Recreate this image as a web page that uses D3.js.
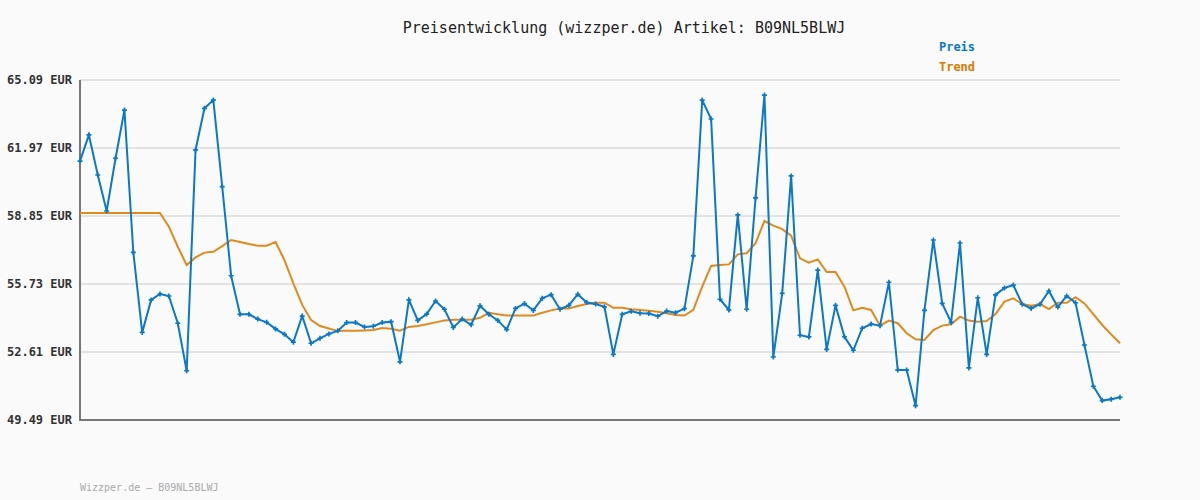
<!DOCTYPE html>
<html><head><meta charset="utf-8">
<script src="https://cdn.jsdelivr.net/npm/d3@7"></script>
<style>
html,body{margin:0;padding:0;background:#fafafa;}
svg{display:block;}
text{font-family:"DejaVu Sans Mono","Liberation Mono",monospace;}
</style></head><body>
<svg id="c" width="1200" height="500"></svg>
<script>
const title = "Preisentwicklung (wizzper.de) Artikel: B09NL5BLWJ";
const footer = "Wizzper.de – B09NL5BLWJ";
const seriesNames = ["Preis", "Trend"];
const yTicks = [49.49, 52.61, 55.73, 58.85, 61.97, 65.09];

const preis = [
61.37,62.57,60.73,59.08,61.50,63.71,57.18,53.51,55.00,55.27,
55.18,53.93,51.75,61.88,63.79,64.17,60.20,56.11,54.34,54.34,
54.12,53.97,53.67,53.42,53.06,54.26,53.01,53.24,53.44,53.58,
53.96,53.96,53.76,53.79,53.96,54.00,52.16,55.00,54.06,54.35,
54.95,54.57,53.74,54.12,53.86,54.73,54.34,54.06,53.64,54.61,
54.83,54.52,55.07,55.24,54.57,54.75,55.26,54.88,54.81,54.68,
52.50,54.34,54.48,54.39,54.38,54.25,54.49,54.41,54.60,57.02,
64.17,63.30,55.03,54.54,58.90,54.57,59.68,64.40,52.38,55.30,
60.69,53.38,53.30,56.37,52.73,54.75,53.31,52.69,53.70,53.89,
53.82,55.81,51.78,51.78,50.15,54.52,57.75,54.84,53.97,57.61,
51.88,55.10,52.50,55.23,55.55,55.68,54.80,54.61,54.80,55.41,
54.67,55.18,54.87,52.93,51.04,50.38,50.44,50.53
];
const trend = [
58.99,58.99,58.99,58.99,58.99,58.99,58.99,58.99,58.99,58.99,
58.36,57.44,56.60,56.95,57.17,57.21,57.47,57.75,57.66,57.57,
57.49,57.49,57.66,56.83,55.76,54.77,54.08,53.80,53.69,53.58,
53.58,53.58,53.60,53.62,53.71,53.68,53.59,53.76,53.80,53.88,
53.97,54.06,54.09,54.09,54.09,54.18,54.41,54.34,54.29,54.29,
54.29,54.29,54.41,54.52,54.61,54.61,54.72,54.81,54.87,54.87,
54.64,54.64,54.57,54.54,54.50,54.46,54.39,54.31,54.28,54.54,
55.61,56.56,56.60,56.63,57.09,57.14,57.60,58.62,58.41,58.25,
57.95,56.91,56.71,56.86,56.28,56.28,55.61,54.52,54.64,54.54,
53.82,54.05,53.93,53.47,53.19,53.16,53.62,53.82,53.88,54.23,
54.05,54.00,54.03,54.35,54.92,55.07,54.81,54.73,54.81,54.58,
54.87,54.87,55.12,54.84,54.35,53.85,53.42,53.01
];

const colors = {Preis:"#0b78c8", Trend:"#e08a1e"};
const svg = d3.select("#c");
const L = 80, R = 1120, T = 80, B = 420;
const x = d3.scaleLinear().domain([0, preis.length - 1]).range([L, R]);
const y = d3.scaleLinear().domain([yTicks[0], yTicks[yTicks.length-1]]).range([B, T]);

// gridlines
svg.append("g").selectAll("line").data(yTicks.slice(1)).join("line")
  .attr("x1", L).attr("x2", R).attr("y1", d => y(d)).attr("y2", d => y(d))
  .attr("stroke", "#e3e3e3").attr("stroke-width", 2);

// y axis via d3 axis
const yAxis = d3.axisLeft(y).tickValues(yTicks).tickSize(0).tickPadding(8)
  .tickFormat(d => d.toFixed(2) + " EUR");
const ga = svg.append("g").attr("transform", `translate(${L},0)`).call(yAxis);
ga.select(".domain").remove();
ga.selectAll("text").attr("font-size", 12).attr("font-weight", "bold").attr("fill", "#333");

// axis lines
svg.append("line").attr("x1", L).attr("x2", L).attr("y1", T).attr("y2", B+1)
  .attr("stroke", "#777").attr("stroke-width", 2);
svg.append("line").attr("x1", L-1).attr("x2", R).attr("y1", B).attr("y2", B)
  .attr("stroke", "#777").attr("stroke-width", 2);

// trend line
const line = d3.line().x((d,i) => x(i)).y(d => y(d));
svg.append("path").datum(trend).attr("d", line).attr("fill", "none")
  .attr("stroke", colors.Trend).attr("stroke-width", 2);
// preis line
svg.append("path").datum(preis).attr("d", line).attr("fill", "none")
  .attr("stroke", colors.Preis).attr("stroke-width", 2);
// markers
const sym = d3.symbol().type(d3.symbolCross).size(14);
svg.append("g").selectAll("path").data(preis).join("path")
  .attr("d", sym).attr("transform", (d,i) => `translate(${x(i)},${y(d)})`)
  .attr("fill", colors.Preis);

// title
svg.append("text").attr("x", 624).attr("y", 33).attr("text-anchor", "middle")
  .attr("font-size", 15).attr("fill", "#222").text(title);
// legend
seriesNames.forEach((n, i) => {
  svg.append("text").attr("x", 957).attr("y", 51 + i*20).attr("text-anchor", "middle")
    .attr("font-size", 12).attr("font-weight", "bold").attr("fill", n === "Preis" ? "#0b78c8" : "#dc7800").text(n);
});
// footer
svg.append("text").attr("x", 80).attr("y", 491).attr("font-size", 10)
  .attr("fill", "#aaa").text(footer);
</script>
</body></html>
